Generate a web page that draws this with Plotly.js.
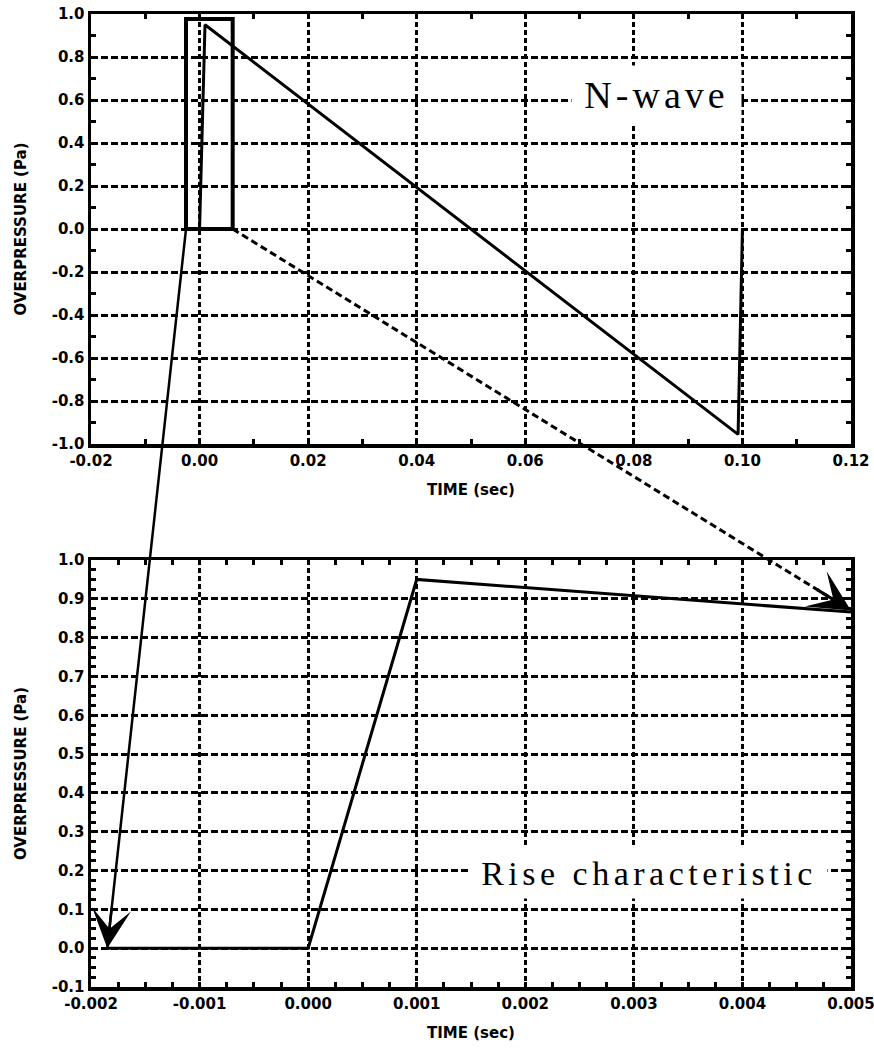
<!DOCTYPE html>
<html>
<head>
<meta charset="utf-8">
<script src="https://cdn.plot.ly/plotly-3.0.1.min.js"></script>
<style>
  html, body { margin: 0; padding: 0; background: #fff; }
  #chart { width: 874px; height: 1049px; }
</style>
</head>
<body>
<div id="chart"></div>
<script>
// N-wave pressure signature (upper panel)
const nwaveTime = [0, 0.001, 0.0992, 0.1];
const nwavePressure = [0, 0.95, -0.955, 0];

// Close-up of the shock rise (lower panel)
const riseTime = [-0.00185, 0, 0.001, 0.005];
const risePressure = [0, 0, 0.95, 0.866];

// Region of the N-wave that the lower panel enlarges
const zoomBoxTime = [-0.0025, 0.0061];
const zoomBoxPressure = [0, 0.977];

// Where the connector arrows land in the lower panel (time, pressure)
const solidArrowTip = [-0.00185, 0];
const dashedArrowTip = [0.005, 0.87];

// Tick values and labels
const nwaveTimeTicks = [-0.02, 0, 0.02, 0.04, 0.06, 0.08, 0.10, 0.12];
const nwaveTimeLabels = ['-0.02', '0.00', '0.02', '0.04', '0.06', '0.08', '0.10', '0.12'];
const nwavePressureTicks = [-1, -0.8, -0.6, -0.4, -0.2, 0, 0.2, 0.4, 0.6, 0.8, 1];
const nwavePressureLabels = ['-1.0', '-0.8', '-0.6', '-0.4', '-0.2', '0.0', '0.2', '0.4', '0.6', '0.8', '1.0'];
const riseTimeTicks = [-0.002, -0.001, 0, 0.001, 0.002, 0.003, 0.004, 0.005];
const riseTimeLabels = ['-0.002', '-0.001', '0.000', '0.001', '0.002', '0.003', '0.004', '0.005'];
const risePressureTicks = [-0.1, 0, 0.1, 0.2, 0.3, 0.4, 0.5, 0.6, 0.7, 0.8, 0.9, 1.0];
const risePressureLabels = ['-0.1', '0.0', '0.1', '0.2', '0.3', '0.4', '0.5', '0.6', '0.7', '0.8', '0.9', '1.0'];

// Panel labels
const nwaveLabel = { text: 'N-wave', x: 0.0842, y: 0.623 };
const riseLabel = { text: 'Rise characteristic', x: 0.00314, y: 0.194 };

const xTitle = 'TIME (sec)';
const yTitle = 'OVERPRESSURE (Pa)';

// ---- layout geometry ----
const W = 874, H = 1049;
const margin = { l: 91, r: 23, t: 14, b: 62 };
const plotW = W - margin.l - margin.r;
const plotH = H - margin.t - margin.b;
const topDomain = [0.558, 1];
const bottomDomain = [0, 0.4388];
const topXRange = [-0.02, 0.12], topYRange = [-1, 1];
const botXRange = [-0.002, 0.005], botYRange = [-0.1, 1.0];

function toPaper(v, range, domain) {
  return domain[0] + (v - range[0]) / (range[1] - range[0]) * (domain[1] - domain[0]);
}

const tickFont = { family: 'DejaVu Sans', size: 15, color: '#000', weight: 'bold' };
const titleFont = { family: 'DejaVu Sans', size: 15, color: '#000', weight: 'bold' };

function axisStyle(extra) {
  return Object.assign({
    showline: true, linecolor: '#000', linewidth: 3.5, mirror: 'ticks',
    ticks: 'inside', ticklen: 5, tickwidth: 3, tickcolor: '#000',
    showgrid: true, gridcolor: '#000', gridwidth: 3,
    zeroline: false, tickmode: 'array', tickfont: tickFont,
    ticklabeloverflow: 'allow', fixedrange: true
  }, extra);
}

function minorTicks(step) {
  return { dtick: step, tick0: 0, ticks: 'inside', ticklen: 5, tickwidth: 3, tickcolor: '#000', showgrid: false };
}

const layout = {
  width: W, height: H, margin: margin,
  paper_bgcolor: '#fff', plot_bgcolor: '#fff',
  showlegend: false,
  xaxis: axisStyle({
    domain: [0, 1], anchor: 'y', range: topXRange,
    tickvals: nwaveTimeTicks, ticktext: nwaveTimeLabels,
    griddash: '5px,3px', minor: minorTicks(0.01),
    title: { text: xTitle, font: titleFont, standoff: 17 }
  }),
  yaxis: axisStyle({
    domain: topDomain, anchor: 'x', range: topYRange,
    tickvals: nwavePressureTicks, ticktext: nwavePressureLabels,
    griddash: '7px,3px', minor: minorTicks(0.1),
    title: { text: yTitle, font: titleFont, standoff: 22 }
  }),
  xaxis2: axisStyle({
    domain: [0, 1], anchor: 'y2', range: botXRange,
    tickvals: riseTimeTicks, ticktext: riseTimeLabels,
    griddash: '5px,3px', minor: minorTicks(0.00025),
    title: { text: xTitle, font: titleFont, standoff: 17 }
  }),
  yaxis2: axisStyle({
    domain: bottomDomain, anchor: 'x2', range: botYRange,
    tickvals: risePressureTicks, ticktext: risePressureLabels,
    griddash: '7px,3px', minor: minorTicks(0.025),
    title: { text: yTitle, font: titleFont, standoff: 22 }
  }),
  shapes: [],
  annotations: []
};

// zoom rectangle on the N-wave
layout.shapes.push({
  type: 'rect', xref: 'x', yref: 'y',
  x0: zoomBoxTime[0], x1: zoomBoxTime[1],
  y0: zoomBoxPressure[0], y1: zoomBoxPressure[1],
  line: { color: '#000', width: 4 }, fillcolor: 'rgba(0,0,0,0)'
});

// connector lines from the rectangle corners to the close-up panel
function connector(fromTime, fromPressure, tip, dash, width, headSize) {
  const x0 = toPaper(fromTime, topXRange, [0, 1]);
  const y0 = toPaper(fromPressure, topYRange, topDomain);
  const x1 = toPaper(tip[0], botXRange, [0, 1]);
  const y1 = toPaper(tip[1], botYRange, bottomDomain);
  layout.shapes.push({
    type: 'line', xref: 'paper', yref: 'paper',
    x0: x0, y0: y0, x1: x1, y1: y1,
    line: { color: '#000', width: width, dash: dash }
  });
  // arrow head: short tail pointing back along the connector
  const dxPx = (x0 - x1) * plotW;
  const dyPx = -(y0 - y1) * plotH;
  const len = Math.hypot(dxPx, dyPx);
  const tail = 42;
  layout.annotations.push({
    xref: 'x2', yref: 'y2', x: tip[0], y: tip[1], text: '',
    showarrow: true, arrowhead: 3, arrowsize: headSize, arrowwidth: width,
    arrowcolor: '#000', standoff: 0,
    ax: dxPx / len * tail, ay: dyPx / len * tail
  });
}
connector(zoomBoxTime[0], zoomBoxPressure[0], solidArrowTip, 'solid', 2.5, 2.6);
connector(zoomBoxTime[1], zoomBoxPressure[0], dashedArrowTip, '7px,4px', 3, 2.3);

// panel labels on white boxes
layout.annotations.push({
  xref: 'x', yref: 'y', x: nwaveLabel.x, y: nwaveLabel.y,
  text: '<span style="letter-spacing:4px">' + nwaveLabel.text + '</span>',
  showarrow: false, bgcolor: '#fff', borderpad: 0, width: 169, height: 58,
  font: { family: 'Liberation Serif', size: 38, color: '#000' }
});
layout.annotations.push({
  xref: 'x2', yref: 'y2', x: riseLabel.x, y: riseLabel.y,
  text: '<span style="letter-spacing:4.5px">' + riseLabel.text + '</span>',
  showarrow: false, bgcolor: '#fff', borderpad: 0, width: 356, height: 50,
  font: { family: 'Liberation Serif', size: 34, color: '#000' }
});

const traces = [
  { x: nwaveTime, y: nwavePressure, xaxis: 'x', yaxis: 'y', mode: 'lines',
    line: { color: '#000', width: 3 }, cliponaxis: false },
  { x: riseTime, y: risePressure, xaxis: 'x2', yaxis: 'y2', mode: 'lines',
    line: { color: '#000', width: 3 }, cliponaxis: false }
];

Plotly.newPlot('chart', traces, layout, { staticPlot: true, displayModeBar: false });
</script>
</body>
</html>
